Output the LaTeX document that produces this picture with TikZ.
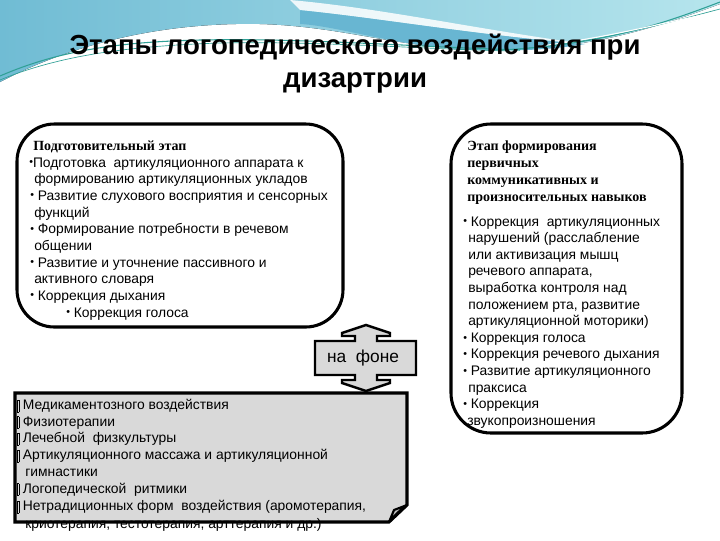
\documentclass[tikz,border=0pt]{standalone}
\usepackage{fontspec}
\setmainfont{Liberation Sans}
\newfontfamily\serifbold{Liberation Serif}[BoldFont={Liberation Serif Bold}]
\usetikzlibrary{shadings}
\definecolor{bgL}{RGB}{112,188,212}
\definecolor{bgR}{RGB}{182,229,237}
\definecolor{bandC}{RGB}{104,182,210}
\definecolor{lineC}{RGB}{48,160,150}
\definecolor{greyF}{RGB}{217,217,217}
\definecolor{foldF}{RGB}{190,190,190}
\newcommand\bul{{\fontsize{8}{8}\selectfont\raisebox{0.8pt}{•}}}
\newcommand\tofubox{{\setlength{\fboxsep}{0pt}\setlength{\fboxrule}{0.45pt}\raisebox{-1.6pt}{\framebox[1.6pt]{\rule{0pt}{8.4pt}}}}\hspace{2.6pt}}
\tikzset{
  txt/.style={anchor=base west,inner sep=0pt,font=\fontsize{10.4}{12}\selectfont},
  head/.style={anchor=base west,inner sep=0pt,font=\serifbold\bfseries\fontsize{10.5}{12}\selectfont},
  ttl/.style={anchor=base,inner sep=0pt,font=\bfseries\fontsize{20.7}{24}\selectfont},
  stagebox/.style={draw=black,line width=2.3pt,fill=white},
}
\begin{document}
\begin{tikzpicture}[x=0.75pt,y=-0.75pt]
\useasboundingbox (0,0) rectangle (720,540);
\fill[white] (0,0) rectangle (720,540);
% background waves
\fill[left color=bgL,right color=bgR] (0,0) -- (720,0) -- (720,4)
  .. controls (650,30) and (580,52) .. (480,50)
  .. controls (400,48) and (340,26) .. (260,24)
  .. controls (160,22) and (70,45) .. (0,82) -- cycle;
\fill[bandC] (300,10) .. controls (380,18) and (470,34) .. (585,44)
  .. controls (545,51) and (505,51) .. (480,50)
  .. controls (400,48) and (340,26) .. (300,24) -- cycle;
\fill[white,opacity=0.85] (290,0) .. controls (380,8) and (470,28) .. (585,44)
  .. controls (470,34) and (380,18) .. (300,10) -- cycle;
\draw[lineC,line width=0.8pt] (0,76) .. controls (60,50) and (120,42) .. (200,40) .. controls (300,38) and (400,46) .. (520,50);
\draw[lineC,line width=0.5pt] (0,80) .. controls (60,55) and (130,46) .. (220,43) .. controls (320,41) and (420,49) .. (510,51);
\draw[lineC,line width=0.8pt] (500,50) .. controls (600,45) and (660,25) .. (720,2);
\draw[lineC,line width=0.5pt] (520,49) .. controls (610,40) and (670,22) .. (720,9);
\draw[white,line width=0.8pt] (540,46) .. controls (620,36) and (680,18) .. (720,12);
% title
\node[ttl] (t1) at (355,54) {Этапы логопедического воздействия при};
\node[ttl] (t2) at (355,87) {дизартрии};
% left box
\draw[stagebox,rounded corners=28pt] (17,124) rectangle (343,327);
\node[head] (lh) at (33,150) {Подготовительный этап};
\node[txt] (l1) at (29,167) {\bul Подготовка\ \ артикуляционного аппарата к};
\node[txt] (l2) at (34,183.5) {формированию артикуляционных укладов};
\node[txt] (l3) at (30,200) {\bul\ Развитие слухового восприятия и сенсорных};
\node[txt] (l4) at (34,217) {функций};
\node[txt] (l5) at (30,233.5) {\bul\ Формирование потребности в речевом};
\node[txt] (l6) at (34,250) {общении};
\node[txt] (l7) at (30,267) {\bul\ Развитие и уточнение пассивного и};
\node[txt] (l8) at (34,283.5) {активного словаря};
\node[txt] (l9) at (30,300) {\bul\ Коррекция дыхания};
\node[txt] (l10) at (66,317) {\bul\ Коррекция голоса};
% right box
\draw[stagebox,rounded corners=30pt] (451,124) rectangle (682,433);
\node[head] (rh1) at (467,150.5) {Этап формирования};
\node[head] (rh2) at (467,167.5) {первичных};
\node[head] (rh3) at (467,184) {коммуникативных и};
\node[head] (rh4) at (467,201.5) {произносительных навыков};
\node[txt] (r1) at (463,226) {\bul\ Коррекция\ \ артикуляционных};
\node[txt] (r2) at (468,242.6) {нарушений (расслабление};
\node[txt] (r3) at (468,259.2) {или активизация мышц};
\node[txt] (r4) at (468,275.8) {речевого аппарата,};
\node[txt] (r5) at (468,292.4) {выработка контроля над};
\node[txt] (r6) at (468,309) {положением рта, развитие};
\node[txt] (r7) at (468,325.6) {артикуляционной моторики)};
\node[txt] (r8) at (463,342.2) {\bul\ Коррекция голоса};
\node[txt] (r9) at (463,358.8) {\bul\ Коррекция речевого дыхания};
\node[txt] (r10) at (463,375.4) {\bul\ Развитие артикуляционного};
\node[txt] (r11) at (468,392) {праксиса};
\node[txt] (r12) at (463,408.6) {\bul\ Коррекция};
\node[txt] (r13) at (467,425.2) {звукопроизношения};
% up-down arrow
\draw[fill=greyF,line width=1.8pt,line join=miter]
  (366,325) -- (390,333) -- (390,336) -- (377,336) -- (377,341) -- (416,341)
  -- (416,375) -- (377,375) -- (377,380) -- (390,380) -- (390,383) -- (366,391)
  -- (342,383) -- (342,380) -- (355,380) -- (355,375) -- (315,375) -- (315,341)
  -- (355,341) -- (355,336) -- (342,336) -- (342,333) -- cycle;
\node[inner sep=0pt,font=\fontsize{13}{15}\selectfont] (bg) at (363,358) {на\ \ фоне};
% bottom box
\fill[greyF] (15,393) -- (407,393) -- (407,505) -- (389,522) -- (15,522) -- cycle;
\node[txt] (b1) at (17,409.4) {\tofubox Медикаментозного воздействия};
\node[txt] (b2) at (17,426) {\tofubox Физиотерапии};
\node[txt] (b3) at (17,442.7) {\tofubox Лечебной\ \ физкультуры};
\node[txt] (b4) at (17,459.7) {\tofubox Артикуляционного массажа и артикуляционной};
\node[txt] (b5) at (25,476.4) {гимнастики};
\node[txt] (b6) at (17,493) {\tofubox Логопедической\ \ ритмики};
\node[txt] (b7) at (17,510.4) {\tofubox Нетрадиционных форм\ \ воздействия (аромотерапия,};
\node[txt] (b8) at (25,528) {криотерапия, тестотерапия, арттерапия и др.)};
\draw[line width=2.3pt,line join=miter] (15,393) -- (407,393) -- (407,505) -- (389,522) -- (15,522) -- cycle;
\draw[fill=foldF,line width=1.6pt,line join=round] (407,505) -- (394,510) -- (389,522) .. controls (396,514) and (400,510) .. (407,505) -- cycle;
\end{tikzpicture}
\end{document}
